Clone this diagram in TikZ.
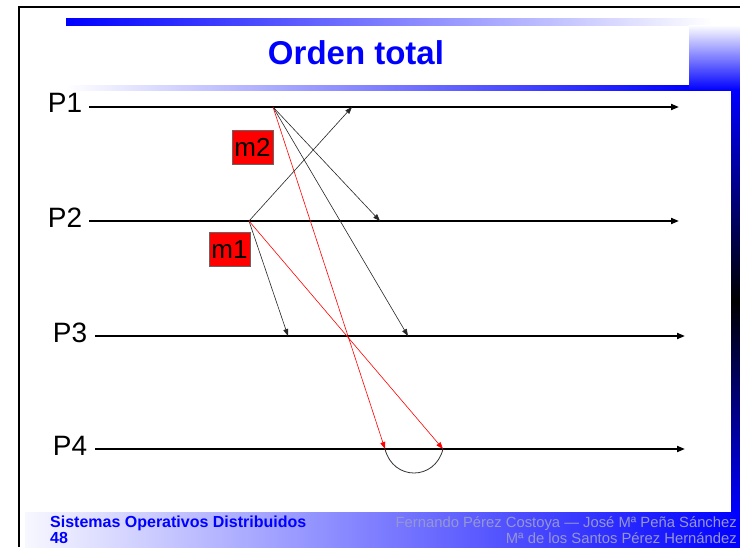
\documentclass[tikz,border=0pt]{standalone}
\usepackage{fontspec}
\setmainfont{Liberation Sans}
\usetikzlibrary{arrows.meta}
\definecolor{slideblue}{RGB}{0,0,255}
\definecolor{footgray}{RGB}{150,150,210}
\begin{document}
\begin{tikzpicture}[x=1pt,y=-1pt,
  proc/.style={line width=1.8pt,-{Triangle[length=8pt,width=6pt]}},
  msg/.style={line width=0.6pt,draw=black!85,-{Triangle[length=7pt,width=5pt]}},
  redmsg/.style={line width=0.6pt,draw=red,-{Triangle[length=7pt,width=5pt]}},
  plabel/.style={inner sep=0pt,font=\fontsize{28}{30}\selectfont},
  tag/.style={fill=red,draw=black!60,line width=0.6pt,minimum width=41pt,
    minimum height=34pt,inner sep=0pt,font=\fontsize{26}{28}\selectfont},
  frameline/.style={line width=2pt,draw=black}]
\useasboundingbox (0,0) rectangle (740,547);
\fill[white] (0,0) rectangle (740,547);

% header bars
\shade[left color=slideblue,right color=white] (66,18) rectangle (712,25);
\shade[left color=white,right color=slideblue] (66,85) rectangle (689,90);
\shade[top color=white,bottom color=slideblue] (689,25) rectangle (740,90);
% right side bar
\shade[top color=slideblue,bottom color=slideblue,middle color=black] (731,90) rectangle (740,512);
% footer band
\shade[left color=slideblue!3,right color=slideblue] (25,512) rectangle (740,547);
% frame
\draw[frameline] (19,547) -- (19,7) -- (740,7);

% title
\node[anchor=base,text=slideblue,font=\bfseries\fontsize{33}{36}\selectfont] (title) at (356,64) {Orden total};

% footer texts
\node[anchor=base west,inner sep=0pt,text=slideblue,font=\bfseries\fontsize{16}{18}\selectfont] (course) at (50,527) {Sistemas Operativos Distribuidos};
\node[anchor=base west,inner sep=0pt,text=slideblue,font=\bfseries\fontsize{16}{18}\selectfont] (page) at (50,543) {48};
\node[anchor=base east,inner sep=0pt,text=footgray,font=\fontsize{14.8}{17}\selectfont] (auth1) at (737,527) {Fernando Pérez Costoya — José Mª Peña Sánchez};
\node[anchor=base east,inner sep=0pt,text=footgray,font=\fontsize{14.8}{17}\selectfont] (auth2) at (737,543) {Mª de los Santos Pérez Hernández};

% process labels
\node[plabel] (P1) at (65,103) {P1};
\node[plabel] (P2) at (65,217.5) {P2};
\node[plabel] (P3) at (70,332.5) {P3};
\node[plabel] (P4) at (70,446) {P4};

% process time lines
\coordinate (p1s) at (89,107);  \coordinate (p1e) at (679,107);
\coordinate (p2s) at (89,221);  \coordinate (p2e) at (679,221);
\coordinate (p3s) at (95,336);  \coordinate (p3e) at (685,336);
\coordinate (p4s) at (95,449);  \coordinate (p4e) at (685,449);
\draw[proc] (p1s) -- (p1e);
\draw[proc] (p2s) -- (p2e);
\draw[proc] (p3s) -- (p3e);
\draw[proc] (p4s) -- (p4e);

% send and receive events
\coordinate (sendA) at (273,107);
\coordinate (sendB) at (249,221);
\coordinate (recvA2) at (380,221);
\coordinate (recvA3) at (408,336);
\coordinate (recvA4) at (385,449);
\coordinate (recvB1) at (352,107);
\coordinate (recvB3) at (288,336);
\coordinate (recvB4) at (443,449);

% messages from P1
\draw[msg] (sendA) -- (recvA2);
\draw[msg] (sendA) -- (recvA3);
\draw[redmsg] (sendA) -- (recvA4);
% messages from P2
\draw[msg] (sendB) -- (recvB1);
\draw[msg] (sendB) -- (recvB3);
\draw[redmsg] (sendB) -- (recvB4);

% joint delivery at P4
\draw[line width=0.8pt,draw=black!80] (recvA4) .. controls (393,481) and (435,481) .. (recvB4);

% message tags
\node[tag] (m2) at (252.5,147) {m2};
\node[tag] (m1) at (229.5,249.5) {m1};
\end{tikzpicture}
\end{document}
